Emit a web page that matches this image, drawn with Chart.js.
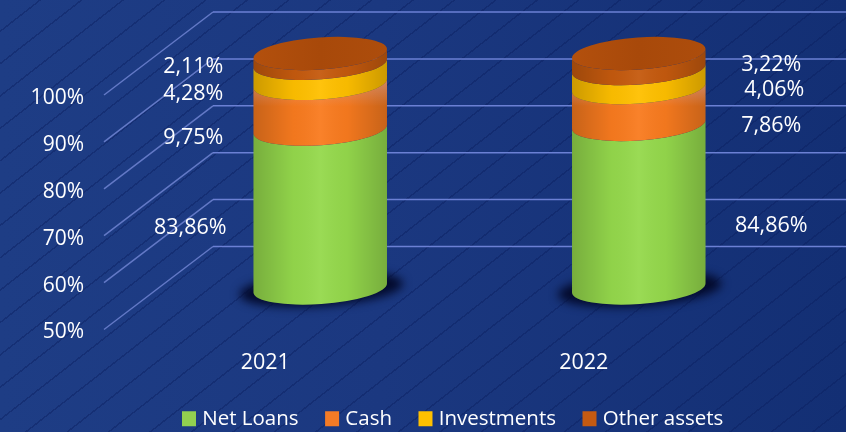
<!DOCTYPE html>
<html>
<head>
<meta charset="utf-8">
<style>
html,body{margin:0;padding:0;width:846px;height:432px;overflow:hidden}
body{background:
 repeating-linear-gradient(142deg,rgba(10,30,95,0) 0 24px,rgba(10,30,95,.42) 24px 25.5px),
 linear-gradient(90deg,#1e3d85 0%,#1b3880 45%,#132f74 100%);}
#w{position:relative;width:846px;height:432px}
</style>
<script src="https://cdn.jsdelivr.net/npm/chart.js@4"></script>
</head>
<body>
<div id="w"><canvas id="c" width="846" height="432"></canvas></div>
<script>
const categories = ['2021','2022'];
const netLoans = [83.86, 84.86];
const cash = [9.75, 7.86];
const investments = [4.28, 4.06];
const otherAssets = [2.11, 3.22];
const seriesNames = ['Net Loans','Cash','Investments','Other assets'];
const seriesColors = ['#92D050','#F47B26','#FFC000','#C55A11'];
const sideColors = ['#95D94C','#F97B1F','#FFC000','#C55A0E'];
const FONT = '"Open Sans"';
const labelShift = [
  [[-130,19.7],[132.5,20]],
  [[-127,31.8],[132.5,20]],
  [[-127,20.6],[135.5,12]],
  [[-127,8.6],[132.5,4]]
];
const DEPTH = 41.5, ROT = -0.07, RY = 16;

const cylinder3d = {
  id:'cylinder3d',
  afterLayout(chart){
    const l = chart.legend;
    l.left = 155.5; l.right = 846; l.top = 378; l.bottom = 432;
  },
  beforeDatasetDraw(){ return false; },
  beforeDatasetsDraw(chart){
    const ctx = chart.ctx, y = chart.scales.y, L = chart.chartArea.left;
    ctx.save();
    ctx.lineWidth = 1.5;
    y.ticks.forEach(t=>{
      const p = y.getPixelForValue(t.value);
      ctx.strokeStyle = '#6379c6';
      ctx.beginPath();
      ctx.moveTo(L-57,p+DEPTH); ctx.lineTo(L+52,p-DEPTH);
      ctx.stroke();
      ctx.strokeStyle = '#6b80d4';
      ctx.beginPath();
      ctx.moveTo(L+52,p-DEPTH); ctx.lineTo(chart.width,p-DEPTH);
      ctx.stroke();
    });
    ctx.restore();
  },
  afterDatasetsDraw(chart){
    const ctx = chart.ctx, bottom = chart.chartArea.bottom;
    const metas = chart.data.datasets.map((d,i)=>chart.getDatasetMeta(i));
    categories.forEach((c,j)=>{
      const b0 = metas[0].data[j], cx = b0.x, rx = b0.width/2;
      ctx.save();
      ctx.filter = 'blur(5px)';
      ctx.fillStyle = '#030a2c';
      ctx.beginPath();
      ctx.ellipse(cx+1,bottom+1,rx+15,RY+1,ROT,0,Math.PI*2);
      ctx.fill();
      ctx.restore();
      metas.forEach((m,i)=>{
        const el = m.data[j];
        const yt = el.y, yb = Math.min(el.base,bottom);
        const path = ()=>{
          ctx.beginPath();
          ctx.ellipse(cx,yb,rx,RY,ROT,0,Math.PI,false);
          ctx.ellipse(cx,yt,rx,RY,ROT,Math.PI,0,true);
          ctx.closePath();
        };
        ctx.save();
        ctx.fillStyle = sideColors[i];
        path(); ctx.fill();
        const g = ctx.createLinearGradient(cx-rx,0,cx+rx,0);
        g.addColorStop(0,'rgba(0,0,0,.2)');
        g.addColorStop(.3,'rgba(0,0,0,.03)');
        g.addColorStop(.5,'rgba(255,255,255,.05)');
        g.addColorStop(.7,'rgba(0,0,0,.03)');
        g.addColorStop(1,'rgba(0,0,0,.2)');
        ctx.fillStyle = g; path(); ctx.fill();
        if(i===1){
          const v = ctx.createLinearGradient(0,yt-6,0,yb+6);
          v.addColorStop(0,'rgba(215,170,170,.55)');
          v.addColorStop(.5,'rgba(215,170,170,0)');
          ctx.fillStyle = v; path(); ctx.fill();
        }
        ctx.restore();
      });
      const top = metas[metas.length-1].data[j];
      const tg = ctx.createLinearGradient(cx-rx,0,cx+rx,0);
      tg.addColorStop(0,'#b3500d');
      tg.addColorStop(.5,'#a8490a');
      tg.addColorStop(1,'#ad4d0c');
      ctx.fillStyle = tg;
      ctx.beginPath();
      ctx.ellipse(cx,top.y,rx,RY,ROT,0,Math.PI*2);
      ctx.fill();
    });
    ctx.save();
    ctx.font = '21.5px '+FONT;
    ctx.fillStyle = '#fff';
    ctx.textAlign = 'center';
    ctx.textBaseline = 'middle';
    metas.forEach((m,i)=>{
      m.data.forEach((el,j)=>{
        const v = chart.data.datasets[i].data[j];
        const yb = Math.min(el.base,bottom);
        ctx.fillText(v.toFixed(2).replace('.',',')+'%', el.x+labelShift[i][j][0], (el.y+yb)/2+labelShift[i][j][1]);
      });
    });
    ctx.restore();
  }
};

new Chart(document.getElementById('c'),{
  type:'bar',
  data:{
    labels:categories,
    datasets:[netLoans,cash,investments,otherAssets].map((d,i)=>({
      label:seriesNames[i],data:d,backgroundColor:seriesColors[i],
      borderColor:seriesColors[i],borderWidth:8,
      barPercentage:.42,categoryPercentage:1
    }))
  },
  options:{
    responsive:false,animation:false,
    layout:{padding:{left:0,right:48,top:53.5,bottom:0}},
    plugins:{
      tooltip:{enabled:false},
      legend:{position:'bottom',align:'start',labels:{
        color:'#fff',font:{family:FONT,size:20.5},boxWidth:6,boxHeight:7,padding:30.5
      }}
    },
    scales:{
      x:{stacked:true,grid:{display:false,drawTicks:false},border:{display:false},
        ticks:{color:'#fff',font:{family:FONT,size:21.5},padding:62,labelOffset:-55,maxRotation:0},
        afterFit(s){s.height=83;}},
      y:{stacked:true,min:50,max:100,grid:{display:false,drawTicks:false},border:{display:false},
        ticks:{color:'#fff',font:{family:FONT,size:21},stepSize:10,padding:77,labelOffset:DEPTH+3,
          callback:v=>v+'%'},
        afterFit(s){s.width=161;s.paddingTop=0;s.paddingBottom=0;}}
    }
  },
  plugins:[cylinder3d]
});
</script>
</body>
</html>
